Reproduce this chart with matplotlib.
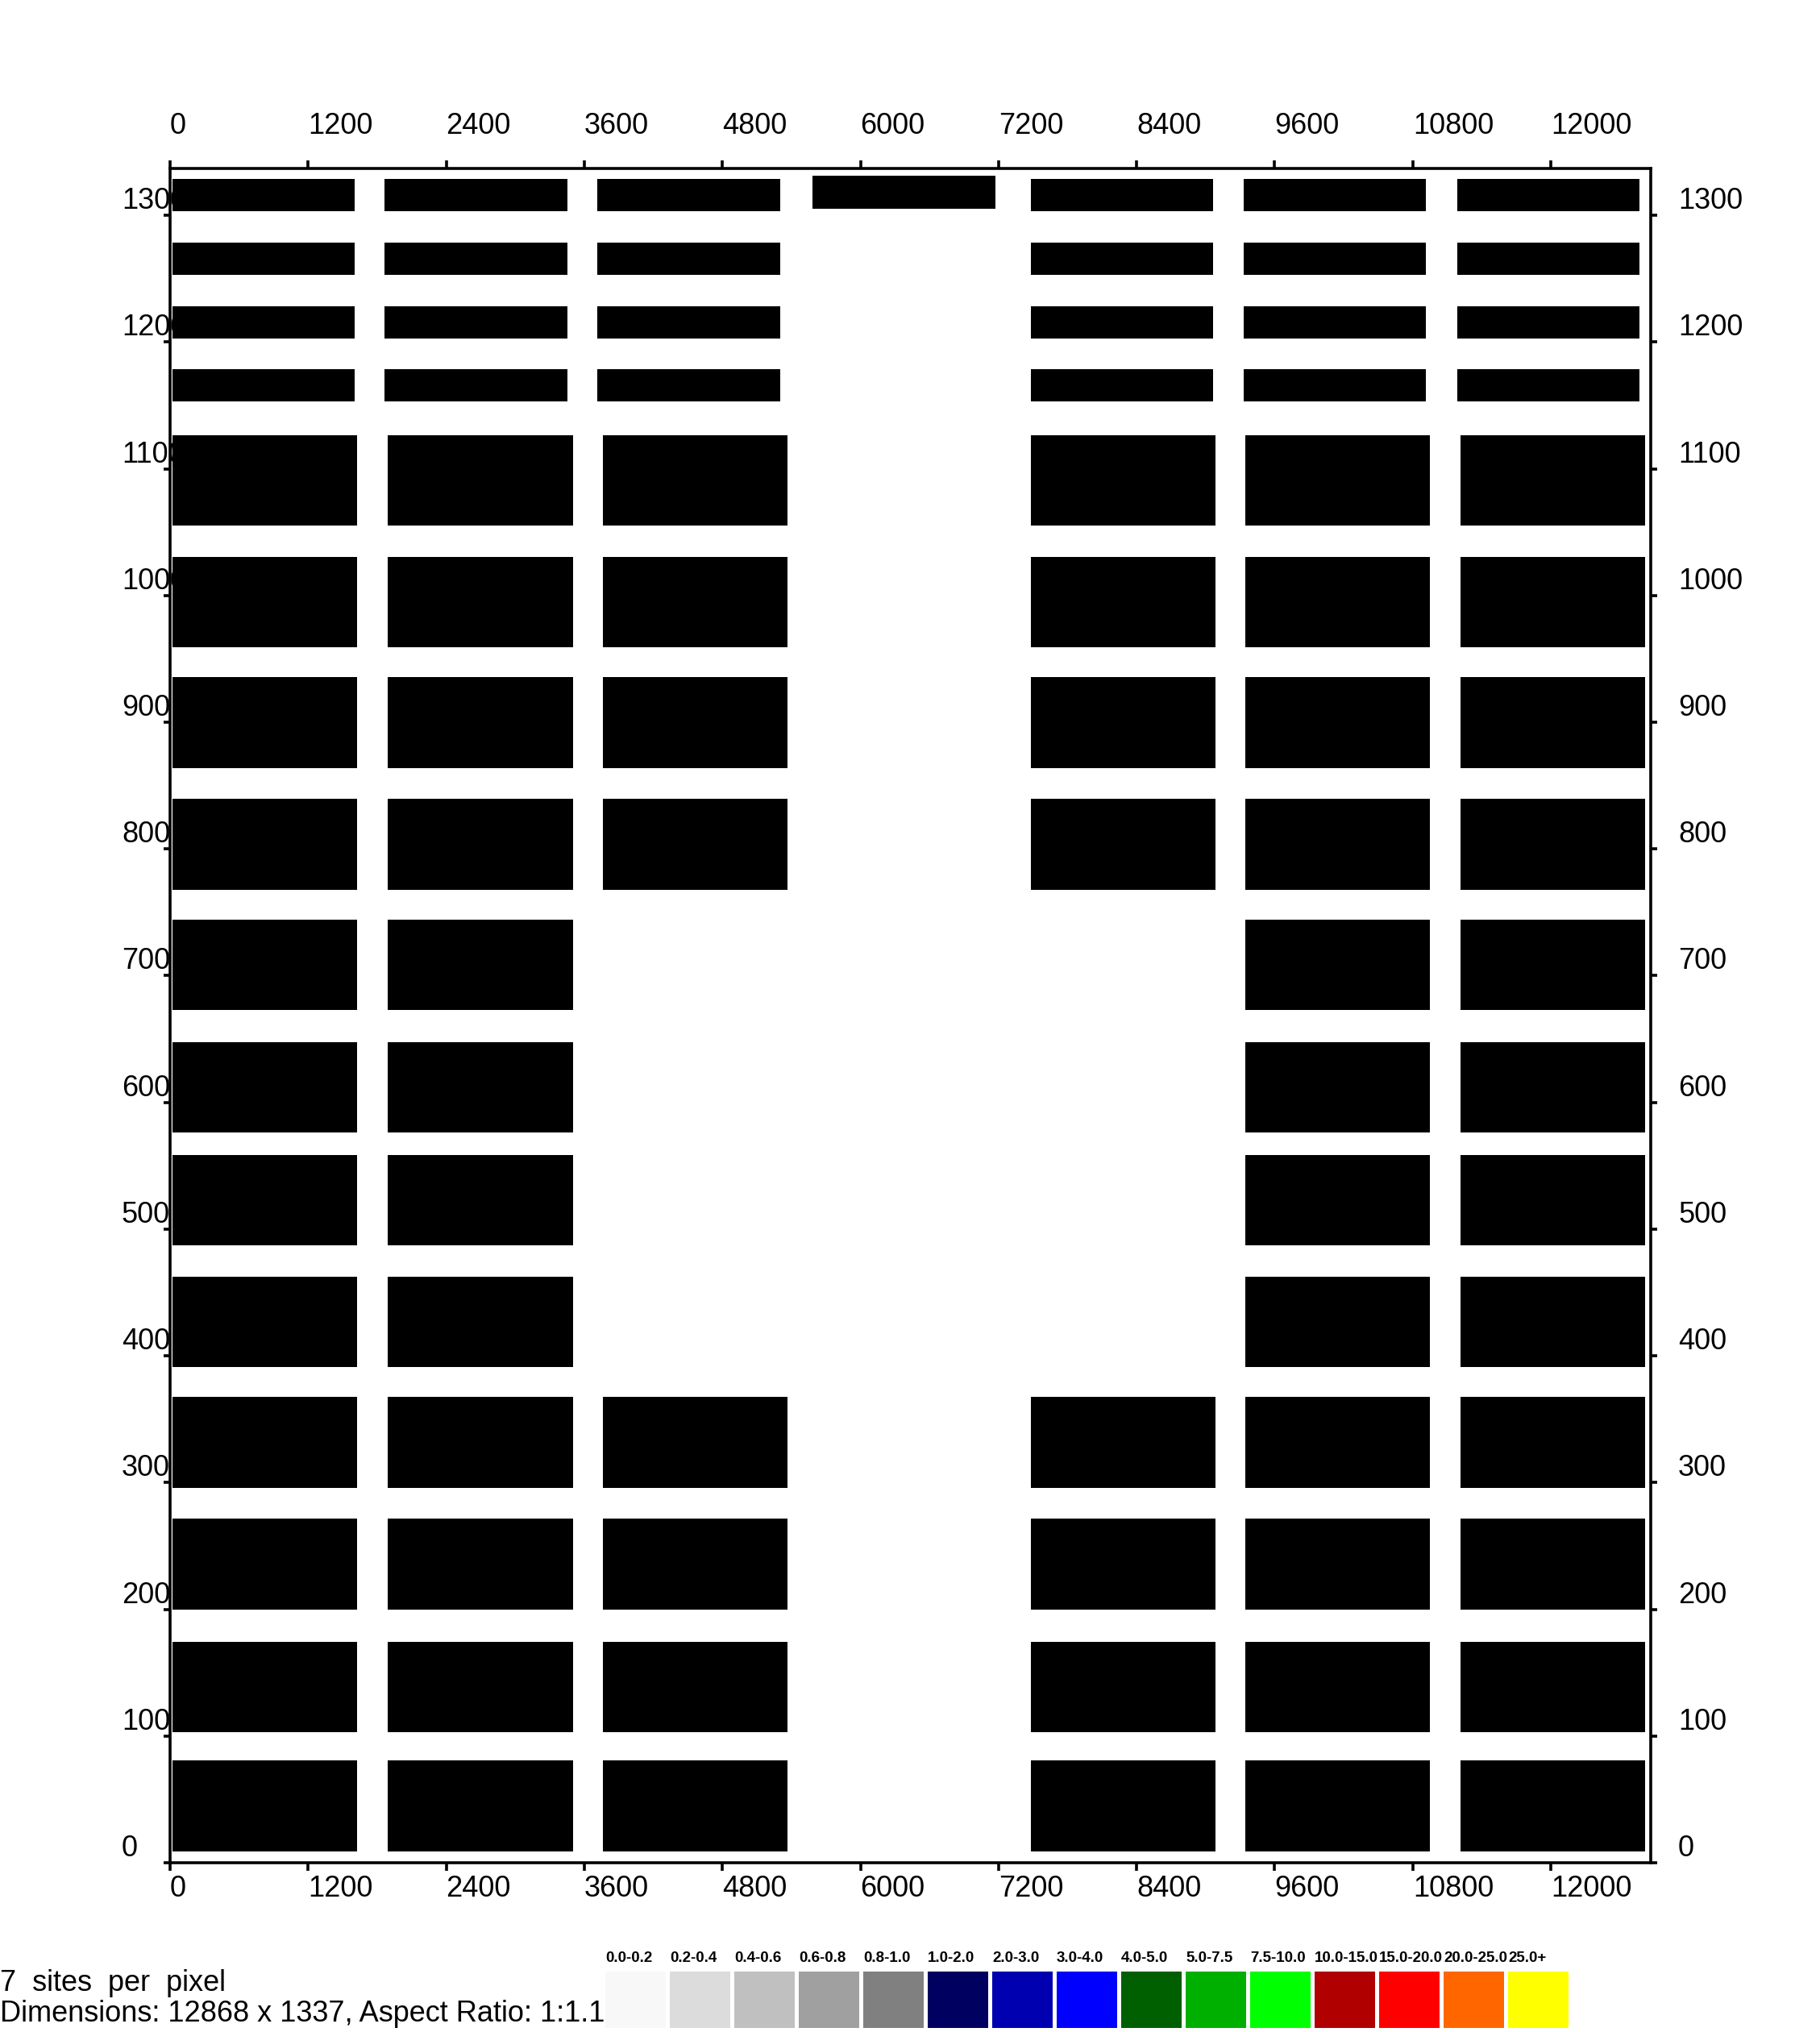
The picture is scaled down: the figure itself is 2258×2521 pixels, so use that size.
import matplotlib
matplotlib.use("Agg")
import matplotlib.pyplot as plt
import matplotlib.transforms as mtrans
from matplotlib import font_manager

# ---------------- data ----------------
# thin rows (upper part): bottoms / heights (y units)
thin_row_bottoms = [1153, 1203, 1253, 1303]
thin_row_height = 25.5
# thin blocks: x start / width for the 7 column positions
thin_col_starts = [21, 1866, 3715, 5575, 7480, 9330, 11185]
thin_col_width = 1586
# presence of each thin block (rows bottom->top, cols left->right)
thin_present = [
    [1, 1, 1, 0, 1, 1, 1],
    [1, 1, 1, 0, 1, 1, 1],
    [1, 1, 1, 0, 1, 1, 1],
    [1, 1, 1, 0, 1, 1, 1],
]
# the lone block at column 4 sits a little higher
lone_block_x = 5586
lone_block_bottom = 1305
lone_block_height = 26

# thick rows
thick_row_bottoms = [9, 103, 200, 296, 391, 487, 576, 673, 768, 864, 959, 1055]
thick_row_height = 71.5
thick_col_starts = [21, 1893, 3760, 7478, 9345, 11213]
thick_col_width = 1607
thick_present = [
    [1, 1, 1, 1, 1, 1],
    [1, 1, 1, 1, 1, 1],
    [1, 1, 1, 1, 1, 1],
    [1, 1, 1, 1, 1, 1],
    [1, 1, 0, 0, 1, 1],
    [1, 1, 0, 0, 1, 1],
    [1, 1, 0, 0, 1, 1],
    [1, 1, 0, 0, 1, 1],
    [1, 1, 1, 1, 1, 1],
    [1, 1, 1, 1, 1, 1],
    [1, 1, 1, 1, 1, 1],
    [1, 1, 1, 1, 1, 1],
]

x_max = 12868
y_max = 1337
x_ticks = [0, 1200, 2400, 3600, 4800, 6000, 7200, 8400, 9600, 10800, 12000]
y_ticks = [0, 100, 200, 300, 400, 500, 600, 700, 800, 900, 1000, 1100, 1200, 1300]

legend_labels = ["0.0-0.2", "0.2-0.4", "0.4-0.6", "0.6-0.8", "0.8-1.0",
                 "1.0-2.0", "2.0-3.0", "3.0-4.0", "4.0-5.0", "5.0-7.5",
                 "7.5-10.0", "10.0-15.0", "15.0-20.0", "20.0-25.0", "25.0+"]
legend_colors = ["#f8f8f8", "#dcdcdc", "#c0c0c0", "#a0a0a0", "#808080",
                 "#000060", "#0000b0", "#0000ff", "#006000", "#00b000",
                 "#00ff00", "#b00000", "#ff0000", "#ff6600", "#ffff00"]

info_line1 = "7  sites  per  pixel"
info_line2 = "Dimensions: 12868 x 1337, Aspect Ratio: 1:1.1"

# ---------------- style ----------------
names = {f.name for f in font_manager.fontManager.ttflist}
fam = ["Liberation Sans Narrow", "Liberation Sans", "DejaVu Sans"]
fam = [f for f in fam if f in names] or ["DejaVu Sans"]
plt.rcParams["font.family"] = fam

W, H, DPI = 2258, 2521, 100
fig = plt.figure(figsize=(W / DPI, H / DPI), dpi=DPI)

def px_axes(x0, y0_top, x1, y1_bottom):
    return [x0 / W, 1 - y1_bottom / H, (x1 - x0) / W, (y1_bottom - y0_top) / H]

ax = fig.add_axes(px_axes(211, 209, 2048, 2311))
ax.set_xlim(0, x_max)
ax.set_ylim(0, y_max)

# thin blocks
for r, yb in enumerate(thin_row_bottoms):
    for c, xs in enumerate(thin_col_starts):
        if thin_present[r][c]:
            ax.bar(xs, thin_row_height, width=thin_col_width, bottom=yb,
                   align="edge", color="black", linewidth=0)
ax.bar(lone_block_x, lone_block_height, width=thin_col_width,
       bottom=lone_block_bottom, align="edge", color="black", linewidth=0)
# thick blocks
for r, yb in enumerate(thick_row_bottoms):
    for c, xs in enumerate(thick_col_starts):
        if thick_present[r][c]:
            ax.bar(xs, thick_row_height, width=thick_col_width, bottom=yb,
                   align="edge", color="black", linewidth=0)

for s in ax.spines.values():
    s.set_linewidth(2.6)

fs = 26
ax.set_xticks(x_ticks)
ax.set_xticklabels([str(v) for v in x_ticks])
ax.set_yticks(y_ticks)
ax.set_yticklabels([str(v) for v in y_ticks])
ax.tick_params(axis="x", which="both", direction="out", length=7, width=2.6,
               top=True, labeltop=True, bottom=True, labelbottom=True,
               labelsize=fs, pad=4)
ax.tick_params(axis="y", which="both", direction="out", length=6, width=2.6,
               left=True, right=True, labelleft=True, labelright=True,
               labelsize=fs, pad=37.2)

for t in ax.xaxis.get_major_ticks():
    t.label1.set_ha("left")
    t.label2.set_ha("left")
    t.label2.set_va("bottom")
for t in ax.yaxis.get_major_ticks():
    t.label1.set_ha("left")
    t.label1.set_va("bottom")
    t.label2.set_va("bottom")

# move top labels up, right labels back toward the axis
off_top = mtrans.ScaledTranslation(0, 14 / 72, fig.dpi_scale_trans)
off_right = mtrans.ScaledTranslation(-18.7 / 72, 0, fig.dpi_scale_trans)
for t in ax.xaxis.get_major_ticks():
    t.label2.set_transform(t.label2.get_transform() + off_top)
for t in ax.yaxis.get_major_ticks():
    t.label2.set_transform(t.label2.get_transform() + off_right)

# ---------------- legend ----------------
lax = fig.add_axes(px_axes(751, 2446, 751 + 80 * len(legend_labels), 2516))
lax.set_xlim(0, len(legend_labels))
lax.set_ylim(0, 1)
lax.bar(range(len(legend_labels)), [1] * len(legend_labels), width=75 / 80,
        align="edge", color=legend_colors, linewidth=0)
for i, lab in enumerate(legend_labels):
    lax.text(i, 1.23, lab, ha="left", va="center", fontsize=13.5,
             fontweight="bold", clip_on=False)
lax.axis("off")

fig.text(0 / W, 1 - 2460 / H, info_line1, ha="left", va="center", fontsize=26)
fig.text(0 / W, 1 - 2499 / H, info_line2, ha="left", va="center", fontsize=26)

fig.savefig("out.png", dpi=DPI, facecolor="white")
